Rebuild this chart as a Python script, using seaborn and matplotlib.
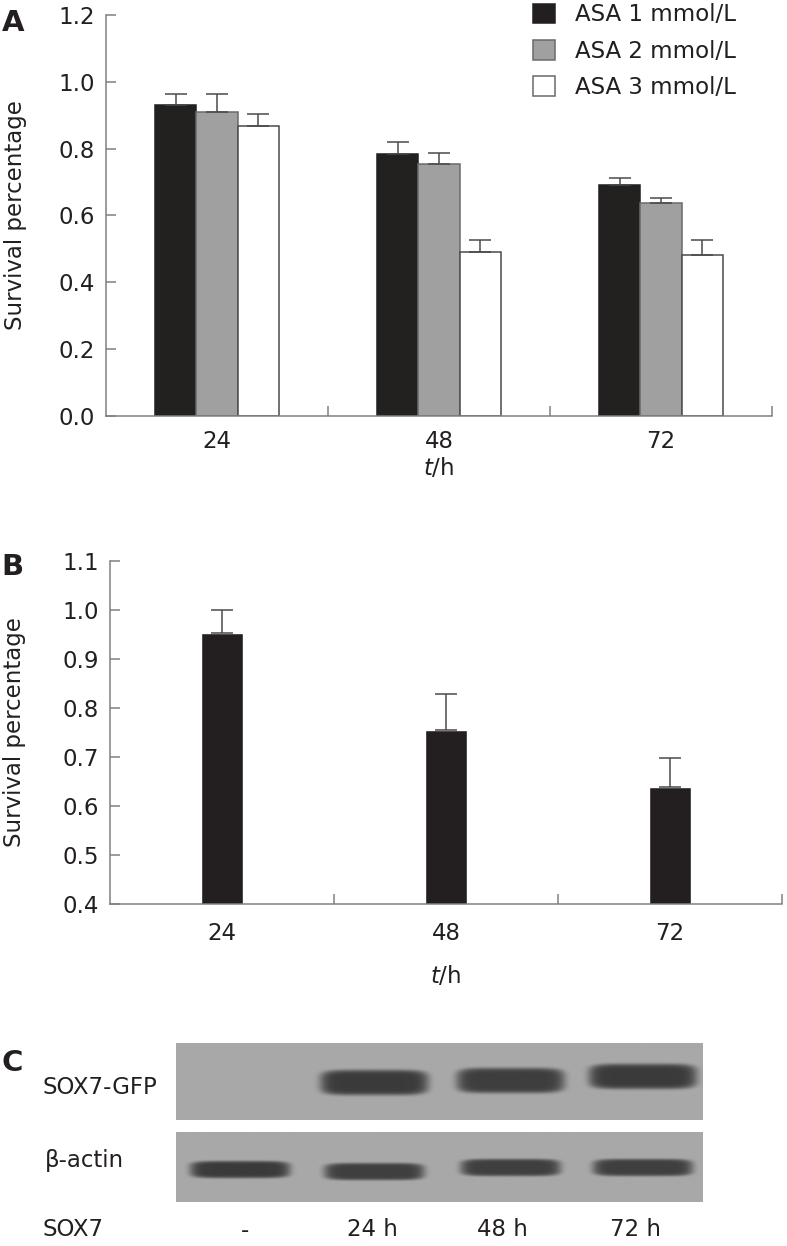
import matplotlib
matplotlib.use("Agg")
import matplotlib.pyplot as plt
import numpy as np
import pandas as pd
import seaborn as sns
from matplotlib.patches import Patch

# Panel A: survival at each time point for three ASA doses
hours = ["24", "48", "72"]
doses = ["ASA 1 mmol/L", "ASA 2 mmol/L", "ASA 3 mmol/L"]
asa_1 = [0.930, 0.785, 0.690]
asa_1_err = [0.033, 0.036, 0.022]
asa_2 = [0.910, 0.755, 0.638]
asa_2_err = [0.054, 0.032, 0.015]
asa_3 = [0.868, 0.490, 0.482]
asa_3_err = [0.036, 0.036, 0.045]

# Panel B: survival after SOX7 transfection
sox7_survival = [0.953, 0.755, 0.639]
sox7_err = [0.047, 0.074, 0.058]

# Panel C: western blot lanes and relative band strength
lanes = ["-", "24 h", "48 h", "72 h"]
sox7_gfp_band = [0.0, 1.0, 0.97, 1.0]
actin_band = [1.0, 0.96, 0.96, 0.96]

BAR_COLORS = ["#231f20", "#a0a0a0", "#ffffff"]
EDGE_COLORS = ["#231f20", "#6a6a6a", "#4a4a4a"]
SPINE = "#808080"
FS = 16.5

sns.set_style("white")
plt.rcParams["font.family"] = ["DejaVu Sans"]
plt.rcParams["mathtext.fontset"] = "dejavusans"

fig = plt.figure(figsize=(7.87, 12.46), dpi=100)


def style_axes(ax, yticks, xlabelpad, ylabel_x):
    for side in ["top", "right"]:
        ax.spines[side].set_visible(False)
    for side in ["left", "bottom"]:
        ax.spines[side].set_color(SPINE)
        ax.spines[side].set_linewidth(1.1)
    ax.set_xlim(-0.5, 2.5)
    ax.set_yticks(yticks)
    ax.set_yticklabels([f"{t:.1f}" for t in yticks], fontsize=FS, color="#231f20")
    ax.tick_params(axis="y", left=True, direction="in", length=7.5, width=1.1,
                   color=SPINE, pad=8)
    ax.set_xticks([0, 1, 2])
    ax.set_xticklabels(hours, fontsize=FS, color="#231f20")
    ax.tick_params(axis="x", which="major", length=0, pad=10)
    ax.set_xticks([0.5, 1.5, 2.5], minor=True)
    ax.tick_params(axis="x", which="minor", bottom=True, direction="in",
                   length=7.5, width=1.1, color=SPINE)
    ax.set_ylabel("Survival percentage", fontsize=FS, color="#231f20")
    ax.yaxis.set_label_coords(ylabel_x, 0.5)
    ax.set_xlabel("$t$/h", fontsize=FS, color="#231f20", labelpad=xlabelpad)


# ---- Panel A ----
ax_a = fig.add_axes([0.1347, 0.6661, 0.8463, 0.3219])
df_a = pd.DataFrame({
    "hour": hours * 3,
    "dose": [d for d in doses for _ in hours],
    "survival": asa_1 + asa_2 + asa_3,
})
sns.barplot(data=df_a, x="hour", y="survival", hue="dose", order=hours,
            hue_order=doses, palette=BAR_COLORS, width=0.56, gap=0,
            errorbar=None, linewidth=1.1, legend=False, ax=ax_a)
errs = [asa_1_err, asa_2_err, asa_3_err]
for cont, ec, err in zip(ax_a.containers, EDGE_COLORS, errs):
    xs, ys = [], []
    for bar in cont:
        bar.set_edgecolor(ec)
        xs.append(bar.get_x() + bar.get_width() / 2)
        ys.append(bar.get_height())
    ax_a.errorbar(xs, ys, yerr=[np.zeros(len(err)), err], fmt="none",
                  ecolor="#4a4a4a", elinewidth=1.1, capsize=8, capthick=1.1)
ax_a.set_ylim(0, 1.2)
style_axes(ax_a, np.arange(0, 1.21, 0.2), 2, -0.118)

handles = [Patch(facecolor=c, edgecolor=e, linewidth=1.1)
           for c, e in zip(BAR_COLORS, ["#231f20", "#6a6a6a", "#6a6a6a"])]
ax_a.legend(handles, doses, loc="upper left", bbox_to_anchor=(0.61, 1.08),
            frameon=False, fontsize=FS, handlelength=0.95, handleheight=0.95,
            handletextpad=0.9, labelspacing=0.58, labelcolor="#231f20")

# ---- Panel B ----
ax_b = fig.add_axes([0.1398, 0.2745, 0.8539, 0.2753])
df_b = pd.DataFrame({"hour": hours, "survival": sox7_survival})
sns.barplot(data=df_b, x="hour", y="survival", order=hours, color="#231f20",
            width=0.19, errorbar=None, saturation=1, ax=ax_b)
bars = ax_b.containers[0]
ax_b.errorbar([b.get_x() + b.get_width() / 2 for b in bars],
              [b.get_height() for b in bars],
              yerr=[np.zeros(len(sox7_err)), sox7_err], fmt="none",
              ecolor="#4a4a4a", elinewidth=1.1, capsize=8, capthick=1.1)
ax_b.set_ylim(0.4, 1.1)
style_axes(ax_b, np.arange(0.4, 1.101, 0.1), 14, -0.125)
ax_b.tick_params(axis="x", which="major", pad=13)

# ---- Panel C: western blot ----
lane_x = [64, 198, 334, 466]     # lane centres in blot pixels
blot_w = 526


def blot_image(height, strengths, centre_y, half_h, half_w=54):
    xx = np.arange(blot_w)[None, :] + 0.5
    yy = np.arange(height)[:, None] + 0.5
    img = np.full((height, blot_w), 0.66)
    for cx, s, cy in zip(lane_x, strengths, centre_y):
        r = (np.abs(xx - cx) / half_w) ** 6 + (np.abs(yy - cy) / half_h) ** 4
        img -= 0.43 * s * np.exp(-r ** 2)
    return img


ax_c1 = fig.add_axes([0.2236, 0.1011, 0.6684, 0.0618])
img1 = blot_image(77, sox7_gfp_band, [40, 40, 38, 34], 12.5)
ax_c1.imshow(img1, cmap="gray", vmin=0, vmax=1, aspect="auto",
             interpolation="bilinear")
ax_c2 = fig.add_axes([0.2236, 0.0353, 0.6684, 0.0562])
img2 = blot_image(70, actin_band, [38, 40, 36, 36], 8.5, half_w=50)
ax_c2.imshow(img2, cmap="gray", vmin=0, vmax=1, aspect="auto",
             interpolation="bilinear")
for ax in (ax_c1, ax_c2):
    ax.set_xticks([])
    ax.set_yticks([])
    for sp in ax.spines.values():
        sp.set_visible(False)

fig.text(43 / 787, 1 - 1088 / 1246, "SOX7-GFP", fontsize=FS, va="center",
         color="#231f20")
fig.text(45 / 787, 1 - 1160 / 1246, "β-actin", fontsize=FS, va="center",
         color="#231f20")
fig.text(43 / 787, 1 - 1230 / 1246, "SOX7", fontsize=FS, va="center",
         color="#231f20")
for lab, x in zip(lanes, [245, 372, 502, 636]):
    fig.text(x / 787, 1 - 1230 / 1246, lab, fontsize=FS, va="center",
             ha="center", color="#231f20")

# panel letters
for letter, y in zip(["A", "B", "C"], [23, 567, 1063]):
    fig.text(0.002, 1 - y / 1246, letter, fontsize=21, fontweight="bold",
             va="center", ha="left", color="#231f20")

fig.savefig("out.png", dpi=100)
